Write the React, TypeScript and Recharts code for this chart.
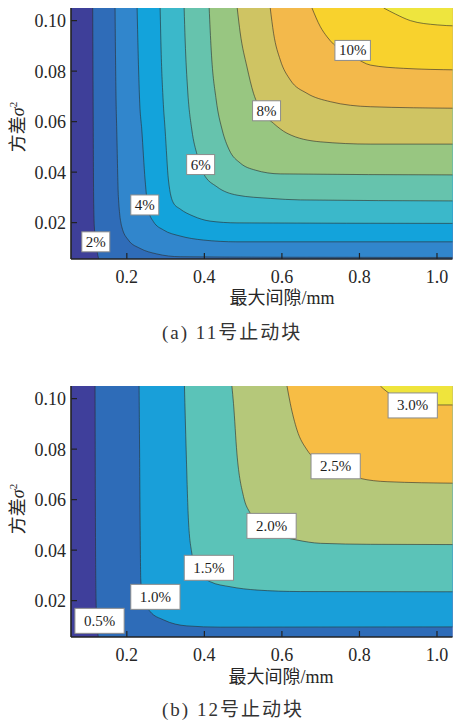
import React from 'react';
import { ComposedChart, Area, XAxis, YAxis, Scatter } from 'recharts';

type P = [number, number];

const X_DOMAIN: [number, number] = [0.056, 1.04];
const Y_DOMAIN: [number, number] = [0.0056, 0.105];
const xTicks = [0.2, 0.4, 0.6, 0.8, 1.0];
const yTicks = [0.02, 0.04, 0.06, 0.08, 0.1];

const xTitle = '最大间隙/mm';
const captionA = '(a) 11号止动块';
const captionB = '(b) 12号止动块';

// ---------- Figure (a): contour levels 2% .. 11% ----------
const levelsA = ['2%', '3%', '4%', '5%', '6%', '7%', '8%', '9%', '10%', '11%'];
const colorsA = ['#3e3f99', '#2f6cb8', '#3186cc', '#13a3db', '#3bb8ca', '#66c3ad', '#98c681', '#cfc463', '#f3b94b', '#f8d22d', '#eee53e'];
const a02: P[] = [[0.112, 0.105], [0.1133, 0.0606], [0.1144, 0.029], [0.1167, 0.0171], [0.1219, 0.01], [0.1309, 0.005], [1.05, 0.005]];
const a03: P[] = [[0.1696, 0.105], [0.1709, 0.0844], [0.1722, 0.0686], [0.174, 0.0567], [0.1782, 0.0303], [0.1869, 0.0184], [0.204, 0.0131], [0.2342, 0.0098], [0.2773, 0.0076], [0.3375, 0.0065], [0.5699, 0.0063], [1.05, 0.0062]];
const a04: P[] = [[0.2265, 0.105], [0.229, 0.0884], [0.2329, 0.0686], [0.2386, 0.0567], [0.2471, 0.0369], [0.2556, 0.025], [0.2686, 0.0204], [0.2944, 0.0171], [0.3375, 0.0147], [0.3977, 0.0131], [0.4839, 0.0124], [1.05, 0.0124]];
const a05: P[] = [[0.2859, 0.105], [0.2884, 0.0884], [0.2936, 0.0686], [0.2988, 0.0567], [0.3073, 0.0369], [0.3202, 0.0278], [0.3375, 0.0254], [0.3711, 0.0226], [0.415, 0.0206], [0.4839, 0.0199], [1.05, 0.0197]];
const a06: P[] = [[0.3478, 0.105], [0.3504, 0.0923], [0.3569, 0.0725], [0.3677, 0.0567], [0.3814, 0.0468], [0.3977, 0.0395], [0.4323, 0.0342], [0.4839, 0.0309], [0.5699, 0.0296], [0.6474, 0.029], [1.05, 0.0286]];
const a07: P[] = [[0.4124, 0.105], [0.4176, 0.0884], [0.4305, 0.0686], [0.446, 0.0567], [0.4641, 0.0488], [0.4925, 0.0436], [0.5312, 0.0408], [0.5958, 0.0393], [1.05, 0.0389]];
const a08: P[] = [[0.4847, 0.105], [0.4925, 0.0951], [0.5098, 0.0817], [0.5268, 0.0712], [0.5493, 0.0638], [0.5785, 0.0593], [0.6131, 0.0554], [0.6991, 0.052], [0.8282, 0.0511], [1.05, 0.0511]];
const a09: P[] = [[0.5699, 0.105], [0.5785, 0.095], [0.5958, 0.0844], [0.6216, 0.0765], [0.6647, 0.0712], [0.7249, 0.0679], [0.8282, 0.0659], [1.05, 0.0653]];
const a10: P[] = [[0.6776, 0.105], [0.6991, 0.0976], [0.7164, 0.0936], [0.7507, 0.0884], [0.7895, 0.0852], [0.8282, 0.0824], [0.9142, 0.0811], [1.05, 0.0805]];
const a11: P[] = [[0.8626, 0.105], [0.8928, 0.1026], [0.9315, 0.1], [1.0005, 0.0983], [1.05, 0.0979]];
const linesA = [a02, a03, a04, a05, a06, a07, a08, a09, a10, a11];
const labelTextA = ['2%', '4%', '6%', '8%', '10%'];
const labelXA = [0.12, 0.2463, 0.3904, 0.5604, 0.7825];
const labelYA = [0.0124, 0.027, 0.043, 0.0643, 0.0882];

// ---------- Figure (b): contour levels 0.5% .. 3.0% ----------
const levelsB = ['0.5%', '1.0%', '1.5%', '2.0%', '2.5%', '3.0%'];
const colorsB = ['#3f3f9b', '#2e6cb8', '#199fd9', '#5bc3b8', '#b5c87a', '#f7bd45', '#efe43c'];
const b05: P[] = [[0.118, 0.105], [0.1188, 0.0599], [0.1206, 0.0203], [0.1231, 0.0104], [0.1283, 0.005], [1.05, 0.005]];
const b10: P[] = [[0.2316, 0.105], [0.2329, 0.0797], [0.2342, 0.0519], [0.236, 0.0282], [0.2419, 0.0203], [0.26, 0.0157], [0.2944, 0.0124], [0.3548, 0.01], [0.4408, 0.0095], [1.05, 0.0096]];
const b15: P[] = [[0.3486, 0.105], [0.353, 0.0797], [0.3589, 0.0519], [0.3677, 0.0387], [0.3814, 0.0313], [0.415, 0.0275], [0.4666, 0.0255], [0.5356, 0.0242], [0.6474, 0.0236], [1.05, 0.0235]];
const b20: P[] = [[0.471, 0.105], [0.4751, 0.0981], [0.4839, 0.0784], [0.501, 0.0612], [0.5183, 0.0546], [0.5493, 0.0492], [0.5958, 0.0456], [0.6389, 0.044], [0.6991, 0.0427], [0.8282, 0.0423], [1.05, 0.0422]];
const b25: P[] = [[0.6131, 0.105], [0.6216, 0.0981], [0.6389, 0.0876], [0.6647, 0.0797], [0.6991, 0.0745], [0.7507, 0.071], [0.8024, 0.0684], [0.8713, 0.0671], [1.05, 0.0665]];
const b30: P[] = [[0.854, 0.105], [0.8713, 0.1027], [0.9057, 0.1002], [0.9573, 0.0983], [1.002, 0.0975], [1.05, 0.0975]];
const linesB = [b05, b10, b15, b20, b25, b30];
const labelTextB = ['0.5%', '1.0%', '1.5%', '2.0%', '2.5%', '3.0%'];
const labelXB = [0.1296, 0.2737, 0.4116, 0.5733, 0.7386, 0.9374];
const labelYB = [0.012, 0.0215, 0.033, 0.0496, 0.0732, 0.0973];

// whole plane (background band, below the lowest level)
const plane: P[] = [[0.05, 0.005], [1.05, 0.005]];

const SERIF = "'Liberation Serif', 'Times New Roman', serif";
const MIXED = "'Liberation Serif', 'Noto Sans CJK SC', serif";
const TEXT = '#262626';

const charW = (c: string) => (c === '.' ? 0.25 : c === '%' ? 0.833 : 0.5);
const textWidth = (s: string, fs: number) => s.split('').reduce((a, c) => a + charW(c), 0) * fs;

const BottomTick = (props: any) => {
  const { x, y, payload } = props;
  return (
    <g>
      <line x1={x} y1={y} x2={x} y2={y - 6} stroke="#222" strokeWidth={1.2} />
      <text x={x} y={y + 24} textAnchor="middle" fontFamily={SERIF} fontSize={18} fill={TEXT}>
        {Number(payload.value).toFixed(1)}
      </text>
    </g>
  );
};
const LeftTick = (props: any) => {
  const { x, y, payload } = props;
  return (
    <g>
      <line x1={x} y1={y} x2={x + 6} y2={y} stroke="#222" strokeWidth={1.2} />
      <text x={x - 5} y={y + 6.5} textAnchor="end" fontFamily={SERIF} fontSize={18} fill={TEXT}>
        {Number(payload.value).toFixed(2)}
      </text>
    </g>
  );
};
const TopTick = (props: any) => {
  const { x, y } = props;
  return <line x1={x} y1={y} x2={x} y2={y + 5} stroke="#555" strokeWidth={1} />;
};
const RightTick = (props: any) => {
  const { x, y } = props;
  return <line x1={x} y1={y} x2={x - 5} y2={y} stroke="#555" strokeWidth={1} />;
};

const makeLabelShape = (pad: number, h: number) => (props: any) => {
  const { cx, cy, payload } = props;
  const fs = 15;
  const w = textWidth(payload.text, fs) + 2 * pad;
  return (
    <g>
      <rect x={cx - w / 2} y={cy - h / 2} width={w} height={h} fill="#ffffff" stroke="#8c8c8c" strokeWidth={1} />
      <text x={cx} y={cy + 5} textAnchor="middle" fontFamily={SERIF} fontSize={fs} fill="#1e1e1e">
        {payload.text}
      </text>
    </g>
  );
};

const toPts = (l: P[]) => l.map(([x, y]) => ({ x, y }));

type PanelProps = {
  lines: P[][];
  levels: string[];
  colors: string[];
  labelText: string[];
  labelX: number[];
  labelY: number[];
  pad: number;
  boxH: number;
};

const ContourPanel = ({ lines, levels, colors, labelText, labelX, labelY, pad, boxH }: PanelProps) => {
  const labels = labelText.map((t, i) => ({ x: labelX[i], y: labelY[i], text: t }));
  const shape = makeLabelShape(pad, boxH);
  return (
    <ComposedChart width={453} height={300} margin={{ top: 8, right: 0.5, bottom: 0, left: 0 }}>
      <XAxis
        dataKey="x"
        type="number"
        domain={X_DOMAIN}
        allowDataOverflow
        ticks={xTicks}
        interval={0}
        height={41}
        tickSize={0}
        tickMargin={0}
        tick={<BottomTick />}
        axisLine={{ stroke: '#222', strokeWidth: 1.6 }}
        tickLine={false}
      />
      <XAxis
        xAxisId="top"
        orientation="top"
        dataKey="x"
        type="number"
        domain={X_DOMAIN}
        allowDataOverflow
        ticks={xTicks}
        interval={0}
        height={0}
        tickSize={0}
        tickMargin={0}
        tick={<TopTick />}
        axisLine={{ stroke: '#a0a0a0', strokeWidth: 1 }}
        tickLine={false}
      />
      <YAxis
        dataKey="y"
        type="number"
        domain={Y_DOMAIN}
        allowDataOverflow
        ticks={yTicks}
        interval={0}
        width={71}
        tickSize={0}
        tickMargin={0}
        tick={<LeftTick />}
        axisLine={{ stroke: '#222', strokeWidth: 1.6 }}
        tickLine={false}
      />
      <YAxis
        yAxisId="right"
        orientation="right"
        dataKey="y"
        type="number"
        domain={Y_DOMAIN}
        allowDataOverflow
        ticks={yTicks}
        interval={0}
        width={0}
        tickSize={0}
        tickMargin={0}
        tick={<RightTick />}
        axisLine={{ stroke: '#a0a0a0', strokeWidth: 1 }}
        tickLine={false}
      />
      <Area
        name="base"
        data={toPts(plane)}
        dataKey="y"
        type="linear"
        baseValue={Y_DOMAIN[1]}
        fill={colors[0]}
        fillOpacity={1}
        stroke="none"
        isAnimationActive={false}
        dot={false}
        activeDot={false}
      />
      {lines.map((l, i) => (
        <Area
          key={levels[i]}
          name={levels[i]}
          data={toPts(l)}
          dataKey="y"
          type="monotone"
          baseValue={Y_DOMAIN[1]}
          fill={colors[i + 1]}
          fillOpacity={1}
          stroke="#2b2b2b"
          strokeOpacity={0.75}
          strokeWidth={0.8}
          isAnimationActive={false}
          dot={false}
          activeDot={false}
        />
      ))}
      <Scatter data={labels} dataKey="y" shape={shape} isAnimationActive={false} />
    </ComposedChart>
  );
};

const abs = (s: React.CSSProperties): React.CSSProperties => ({ position: 'absolute', ...s });

const YTitle = ({ cx, cy }: { cx: number; cy: number }) => (
  <div
    style={abs({
      left: cx,
      top: cy,
      transform: 'translate(-50%, -50%) rotate(-90deg)',
      whiteSpace: 'nowrap',
      fontFamily: MIXED,
      fontSize: 18,
      lineHeight: '20px',
      color: TEXT,
    })}
  >
    方差<span style={{ fontFamily: SERIF, fontStyle: 'italic' }}>σ</span>
    <sup style={{ fontFamily: SERIF, fontSize: 11, verticalAlign: 'top', lineHeight: '10px' }}>2</sup>
  </div>
);

const XTitle = ({ cx, cy }: { cx: number; cy: number }) => (
  <div
    style={abs({
      left: cx,
      top: cy,
      transform: 'translate(-50%, -50%)',
      whiteSpace: 'nowrap',
      fontFamily: MIXED,
      fontSize: 18,
      lineHeight: '20px',
      color: TEXT,
    })}
  >
    {xTitle}
  </div>
);

const Caption = ({ left, cy, text }: { left: number; cy: number; text: string }) => (
  <div
    style={abs({
      left,
      top: cy - 11,
      whiteSpace: 'nowrap',
      fontFamily: MIXED,
      fontSize: 19,
      lineHeight: '22px',
      letterSpacing: 2,
      color: '#333',
    })}
  >
    {text}
  </div>
);

export default function App() {
  return (
    <div style={abs({ left: 0, top: 0, width: 453, height: 722, background: '#fff', overflow: 'hidden' })}>
      <div style={abs({ left: 0, top: 0 })}>
        <ContourPanel
          lines={linesA}
          levels={levelsA}
          colors={colorsA}
          labelText={labelTextA}
          labelX={labelXA}
          labelY={labelYA}
          pad={4}
          boxH={20}
        />
      </div>
      <YTitle cx={18} cy={127} />
      <XTitle cx={282} cy={298} />
      <Caption left={162} cy={333} text={captionA} />

      <div style={abs({ left: 0, top: 378 })}>
        <ContourPanel
          lines={linesB}
          levels={levelsB}
          colors={colorsB}
          labelText={labelTextB}
          labelX={labelXB}
          labelY={labelYB}
          pad={9}
          boxH={25}
        />
      </div>
      <YTitle cx={18} cy={509} />
      <XTitle cx={281} cy={677} />
      <Caption left={162} cy={710} text={captionB} />
    </div>
  );
}
